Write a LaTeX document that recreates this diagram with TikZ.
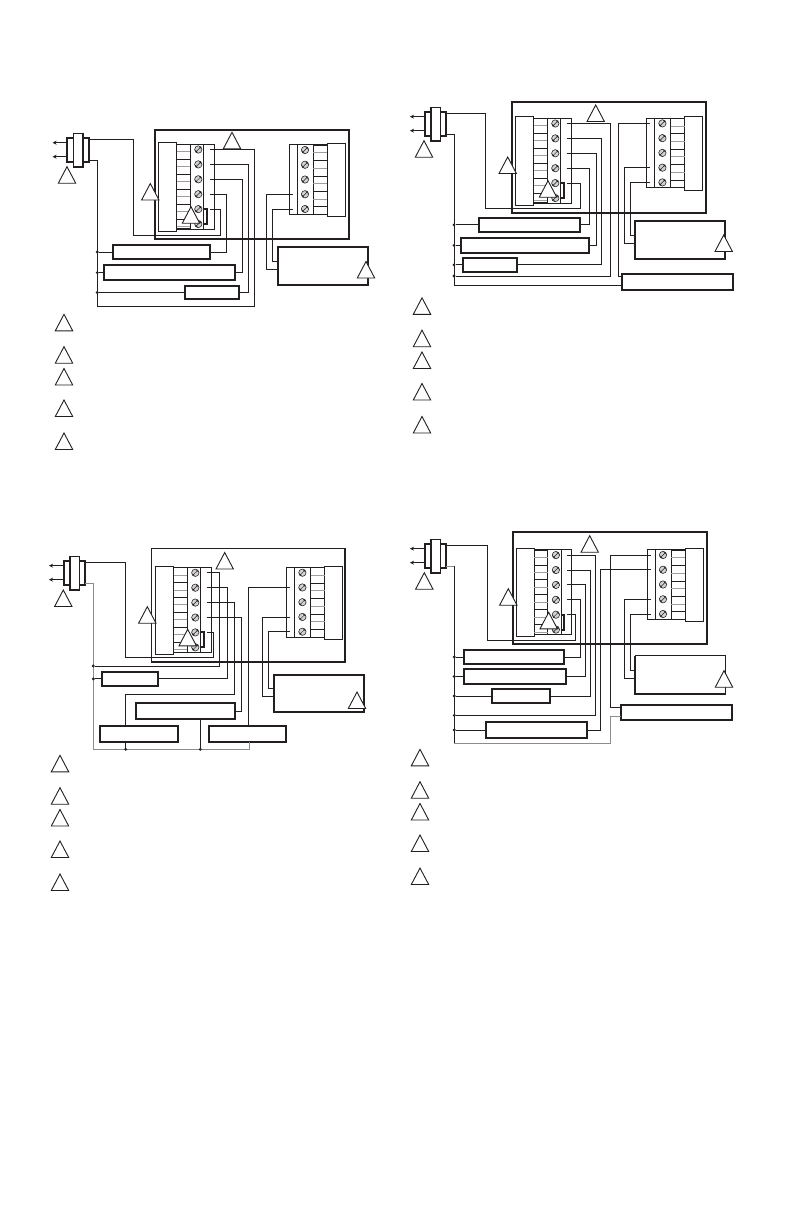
\documentclass[tikz,border=0pt]{standalone}
\usetikzlibrary{arrows.meta}
\definecolor{ink}{HTML}{231F20}
\definecolor{fin}{gray}{0.62}
\tikzset{
  wire/.style={draw=ink,line width=0.85pt},
  graywire/.style={draw=gray!90,line width=1pt},
  thin box/.style={draw=ink,line width=0.9pt,inner sep=0pt,outer sep=0pt,rectangle},
  thick box/.style={draw=ink,line width=1.7pt,inner sep=0pt,outer sep=0pt,rectangle},
  panel box/.style={draw=ink,line width=1.9pt,inner sep=0pt,outer sep=0pt,rectangle},
  junction/.style={circle,fill=ink,inner sep=0pt,minimum size=3.2pt,outer sep=0pt},
  mark tri/.style={draw=ink,fill=white,line width=0.9pt,line join=miter},
  jumper/.style={draw=ink,line width=2pt},
  finline/.style={line width=0.6pt},
  lead/.style={draw=ink,line width=1.5pt,-{Stealth[length=4pt,width=4pt]}},
  screw/.style={circle,draw=ink,fill=gray!35,line width=0.55pt,inner sep=0pt,minimum size=7.4pt}
}
% box by corners: style, name, x1, y1, x2, y2
\newcommand\bx[6]{%
  \pgfmathsetmacro\bw{(#5)-(#3)}\pgfmathsetmacro\bh{(#6)-(#4)}%
  \pgfmathsetmacro\bcx{((#3)+(#5))/2}\pgfmathsetmacro\bcy{((#4)+(#6))/2}%
  \node[#1,minimum width=\bw pt,minimum height=\bh pt] (#2) at (\bcx,\bcy) {};}
\newcommand\tri[2]{\draw[mark tri] (#1,#2) -- ++(-8.7,16.5) -- ++(17.4,0) -- cycle;}
% one screw at point
\newcommand\scr[3]{%
  \node[screw] (#1) at (#2,#3) {};
  \draw[draw=ink,line width=0.5pt] (#2-2.5,#3+2.5) -- (#2+2.5,#3-2.5)
    (#2-3,#3+0.9) -- (#2-0.9,#3+3) (#2+0.9,#3-3) -- (#2+3,#3-0.9);}
% left terminal: prefix, x0, y0
\newcommand\leftterm[3]{%
  \bx{thin box}{#1blockL}{#2}{#3}{#2+18}{#3+88.3}
  \bx{thin box}{#1stripL}{#2+31.5}{#3+1.6}{#2+55.6}{#3+86.3}
  \draw[draw=ink,line width=1.3pt] (#2+31.5,#3+1.6) -- (#2+31.5,#3+86.3);
  \draw[draw=ink,line width=0.8pt] (#2+44.8,#3+1.6) -- (#2+44.8,#3+86.3);
  \foreach \k in {0,...,11}{
    \pgfmathsetmacro\fy{#3+1.6+\k*7.47}
    \pgfmathtruncatemacro\odd{mod(\k,2)}
    \ifnum\odd=0 \draw[finline,draw=ink] (#2+18,\fy) -- (#2+31.5,\fy);
    \else \draw[finline,draw=fin,line width=1pt] (#2+18,\fy) -- (#2+31.5,\fy);\fi}
  \draw[draw=ink,line width=1.2pt] (#2+18,#3+1.6) -- (#2+31.5,#3+1.6) (#2+18,#3+86.3) -- (#2+31.5,#3+86.3);
  \foreach \k in {0,...,5}{
    \pgfmathsetmacro\sy{#3+6.8+\k*14.9}
    \pgfmathtruncatemacro\nn{\k+1}
    \scr{#1sL\nn}{#2+39.6}{\sy}
    \coordinate (#1l\nn) at (#2+51,\sy);}
  \draw[jumper] (#2+44.6,#3+66.4) -- (#2+48,#3+66.4) -- (#2+48,#3+81.3) -- (#2+44.6,#3+81.3);}
% right terminal: prefix, x0, y0
\newcommand\rightterm[3]{%
  \bx{thin box}{#1blockR}{#2+38}{#3}{#2+56}{#3+73.4}
  \bx{thin box}{#1stripR}{#2}{#3+1.6}{#2+24}{#3+71.2}
  \draw[draw=ink,line width=0.9pt] (#2+8,#3+1.6) -- (#2+8,#3+71.2);
  \foreach \k in {0,...,9}{
    \pgfmathsetmacro\fy{#3+1.6+\k*7.73}
    \pgfmathtruncatemacro\odd{mod(\k,2)}
    \ifnum\odd=0 \draw[finline,draw=ink] (#2+24,\fy) -- (#2+38,\fy);
    \else \draw[finline,draw=fin,line width=1pt] (#2+24,\fy) -- (#2+38,\fy);\fi}
  \draw[draw=ink,line width=1.1pt] (#2+24,#3+1.6) -- (#2+38,#3+1.6) (#2+24,#3+71.2) -- (#2+38,#3+71.2);
  \foreach \k in {0,...,4}{
    \pgfmathsetmacro\sy{#3+6.7+\k*14.75}
    \pgfmathtruncatemacro\nn{\k+1}
    \scr{#1sR\nn}{#2+15.7}{\sy}
    \coordinate (#1r\nn) at (#2+3.5,\sy);}}
% plug: prefix, x, y
\newcommand\plug[3]{%
  \bx{thick box}{#1plugA}{#2}{#3}{#2+21.6}{#3+24}
  \node[thick box,fill=white,minimum width=9.6pt,minimum height=33.6pt] (#1plugB) at (#2+10.85,#3+12) {};
  \coordinate (#1t) at (#2+21.6,#3+0.8);
  \coordinate (#1b) at (#2+21.6,#3+22);
  \coordinate (#1p) at (#2,#3+4.4);
  \coordinate (#1q) at (#2,#3+18.4);
  \draw[lead] (#1p) -- ++(-14.7,0);
  \draw[lead] (#1q) -- ++(-14.7,0);}
% wire: from, x of riser, to
\newcommand\wh[3]{\draw[wire] (#1) -| (#2,0 |- #3) -- (#3);}
\newcommand\legend[2]{\tri{#1}{#2+314.3}\tri{#1}{#2+346.7}\tri{#1}{#2+368.5}\tri{#1}{#2+400}\tri{#1}{#2+433}}
\begin{document}
\begin{tikzpicture}[x=1pt,y=-1pt]
\useasboundingbox (0,0) rectangle (792,1224);
\fill[white] (0,0) rectangle (792,1224);

%%%%%%%%%%%% panel 1
\bx{panel box}{Aouter}{155}{130}{349}{239}
\leftterm{A}{158.7}{142.7}
\rightterm{A}{289.3}{143.3}
\plug{A}{67.3}{138.3}
\bx{thick box}{Abox1}{112.7}{245}{210.3}{259}
\bx{thick box}{Abox2}{104.3}{265}{235.3}{280.3}
\bx{thick box}{Abox3}{184.7}{285.7}{239.3}{299.3}
\bx{thick box}{Abox4}{277.7}{246.7}{368.3}{285}
\draw[wire] (At) -| (133.3,235.7) -| (220.3,0 |- Al5) -- (Al5);
\draw[wire] (Ab) -| (97.3,306.3) -| (254.3,0 |- Al1) -- (Al1);
\wh{Al2}{248.3}{Abox3.east}
\wh{Al3}{242.3}{Abox2.east}
\wh{Al4}{226.3}{Abox1.east}
\node[junction] (Ad1) at (97.3,0 |- Abox1.west) {};
\node[junction] (Ad2) at (97.3,0 |- Abox2.west) {};
\node[junction] (Ad3) at (97.3,0 |- Abox3.west) {};
\draw[wire] (Ad1) -- (Abox1.west);
\draw[wire] (Ad2) -- (Abox2.west);
\draw[wire] (Ad3) -- (Abox3.west);
\draw[wire] (Ar4) -| (266.7,269.3) -- (277.7,269.3);
\draw[wire] (Ar5) -| (272.3,261.3) -- (277.7,261.3);
\tri{67}{166.7}\tri{232}{132.3}\tri{150.3}{183.5}\tri{191}{206.7}\tri{366}{261.5}
\legend{64}{0}

%%%%%%%%%%%% panel 2
\bx{panel box}{Bouter}{511.7}{101.7}{706}{212.7}
\leftterm{B}{515.7}{116.7}
\rightterm{B}{646.7}{116.7}
\plug{B}{424.7}{112.3}
\bx{thick box}{Bbox1}{478.7}{217.7}{580.3}{232}
\bx{thick box}{Bbox2}{460.7}{237.7}{589.3}{253}
\bx{thick box}{Bbox3}{462.7}{257.7}{517.3}{272}
\bx{thick box}{Bbox4}{635}{221}{725.3}{258.7}
\bx{thick box}{Bbox5}{621.7}{273.7}{733.3}{290}
\draw[wire] (Bt) -| (485.3,208.3) -| (580.3,0 |- Bl5) -- (Bl5);
\draw[wire] (Bb) -| (454,285) -- (621.7,285);
\node[junction] (Bd1) at (454,0 |- Bbox1.west) {};
\node[junction] (Bd2) at (454,0 |- Bbox2.west) {};
\node[junction] (Bd3) at (454,0 |- Bbox3.west) {};
\node[junction] (Bd4) at (454,276) {};
\draw[wire] (Bd1) -- (Bbox1.west);
\draw[wire] (Bd2) -- (Bbox2.west);
\draw[wire] (Bd3) -- (Bbox3.west);
\draw[wire] (Bl1) -| (610.7,276) -- (Bd4);
\wh{Bl2}{601.7}{Bbox3.east}
\wh{Bl3}{596.3}{Bbox2.east}
\wh{Bl4}{589.3}{Bbox1.east}
\draw[wire] (Br1) -| (618.7,276.7) -- (621.7,276.7);
\draw[wire] (Br4) -| (624.7,243.3) -- (635,243.3);
\draw[wire] (Br5) -| (630,235.7) -- (635,235.7);
\tri{424}{140.7}\tri{595.7}{105}\tri{507.7}{157}\tri{548}{180.7}\tri{723.7}{235}
\legend{422}{-16.5}

%%%%%%%%%%%% panel 3
\bx{thin box}{Couter}{151.3}{548}{345.3}{662}
\draw[draw=ink,line width=1.9pt] (151.3,662) -- (345.3,662) -- (345.3,548);
\leftterm{C}{155.7}{566}
\rightterm{C}{286.7}{566}
\plug{C}{63.7}{561.3}
\bx{thick box}{Cbox1}{101.7}{671.7}{158.3}{686}
\bx{thick box}{Cbox2}{136}{703}{235.3}{719}
\bx{thick box}{Cbox3}{100}{725.7}{178.3}{742}
\bx{thick box}{Cbox4}{208.7}{725.7}{286.3}{742}
\bx{thick box}{Cbox5}{273.7}{674.7}{364.3}{712}
\draw[wire] (Ct) -| (125.7,657.3) -| (213.7,0 |- Cl5) -- (Cl5);
\draw[graywire] (Cb) -| (93.3,749.3) -- (249,749.3) -- (249,0 |- Cbox4.south);
\node[junction] (Cd1) at (93.3,666) {};
\node[junction] (Cd2) at (93.3,0 |- Cbox1.west) {};
\node[junction] (Cd3) at (125.7,749.3) {};
\node[junction] (Cd4) at (200.3,749.3) {};
\draw[wire] (Cl1) -| (219.7,666) -- (Cd1);
\draw[wire] (Cd2) -- (Cbox1.west);
\wh{Cl2}{227.3}{Cbox1.east}
\draw[wire] (Cl3) -| (234.3,694.3) -| (125.7,0 |- Cbox3.north);
\wh{Cl4}{241.3}{Cbox2.east}
\draw[wire] (Cd3) -- (125.7,0 |- Cbox3.south);
\draw[wire] (Cd4) -- (200.3,0 |- Cbox2.south);
\draw[wire] (Cr2) -| (248.3,0 |- Cbox4.north);
\draw[wire] (Cr4) -| (262.3,696.3) -- (273.7,696.3);
\draw[wire] (Cr5) -| (268.7,688.3) -- (273.7,688.3);
\tri{63.3}{590}\tri{224.7}{552.5}\tri{147.3}{606.7}\tri{187.7}{629.3}\tri{357}{692}
\legend{60}{441}

%%%%%%%%%%%% panel 4
\bx{panel box}{Douter}{513}{532}{707}{643.7}
\leftterm{D}{516.3}{548.3}
\rightterm{D}{647.3}{548.3}
\plug{D}{424.7}{544.3}
\bx{thick box}{Dbox1}{464.3}{649.7}{564.3}{664.3}
\bx{thick box}{Dbox2}{464.3}{668.7}{565.7}{684.3}
\bx{thick box}{Dbox3}{492.3}{688.7}{550.3}{703.3}
\bx{thick box}{Dbox4}{485.7}{721.7}{586.7}{738.3}
\bx{thick box}{Dbox5}{620.7}{704.7}{732.3}{720}
\bx{thin box}{Dbox6}{635}{655.7}{725.7}{694}
\draw[draw=ink,line width=1.7pt] (725.7,694) -- (635,694) -- (635,655.7);
\draw[wire] (Dt) -| (487.7,640.3) -| (575.3,0 |- Dl5) -- (Dl5);
\draw[graywire] (Db) -- (454.3,0 |- Db);
\draw[wire] (454.3,0 |- Db) -- (454.3,743.7);
\draw[graywire] (454.3,743.7) -| (610,716.3) -- (620.7,716.3);
\node[junction] (Dd1) at (454.3,0 |- Dbox1.west) {};
\node[junction] (Dd2) at (454.3,0 |- Dbox2.west) {};
\node[junction] (Dd3) at (454.3,0 |- Dbox3.west) {};
\node[junction] (Dd4) at (454.3,715.3) {};
\node[junction] (Dd5) at (454.3,0 |- Dbox4.west) {};
\draw[wire] (Dd1) -- (Dbox1.west);
\draw[wire] (Dd2) -- (Dbox2.west);
\draw[wire] (Dd3) -- (Dbox3.west);
\draw[wire] (Dd5) -- (Dbox4.west);
\draw[wire] (Dl1) -| (595.3,715.3) -- (Dd4);
\wh{Dl2}{590.3}{Dbox3.east}
\wh{Dl3}{585.3}{Dbox2.east}
\wh{Dl4}{580.3}{Dbox1.east}
\draw[wire] (Dr1) -| (610.7,707.7) -- (620.7,707.7);
\wh{Dr2}{600.3}{Dbox4.east}
\draw[wire] (Dr4) -| (624.7,678.7) -- (635,678.7);
\draw[wire] (Dr5) -| (630.7,670.7) -- (635,670.7);
\tri{424.3}{572.7}\tri{589.7}{535.7}\tri{508.3}{588.7}\tri{548.7}{612.3}\tri{724}{670.7}
\legend{420}{435}
\end{tikzpicture}
\end{document}
